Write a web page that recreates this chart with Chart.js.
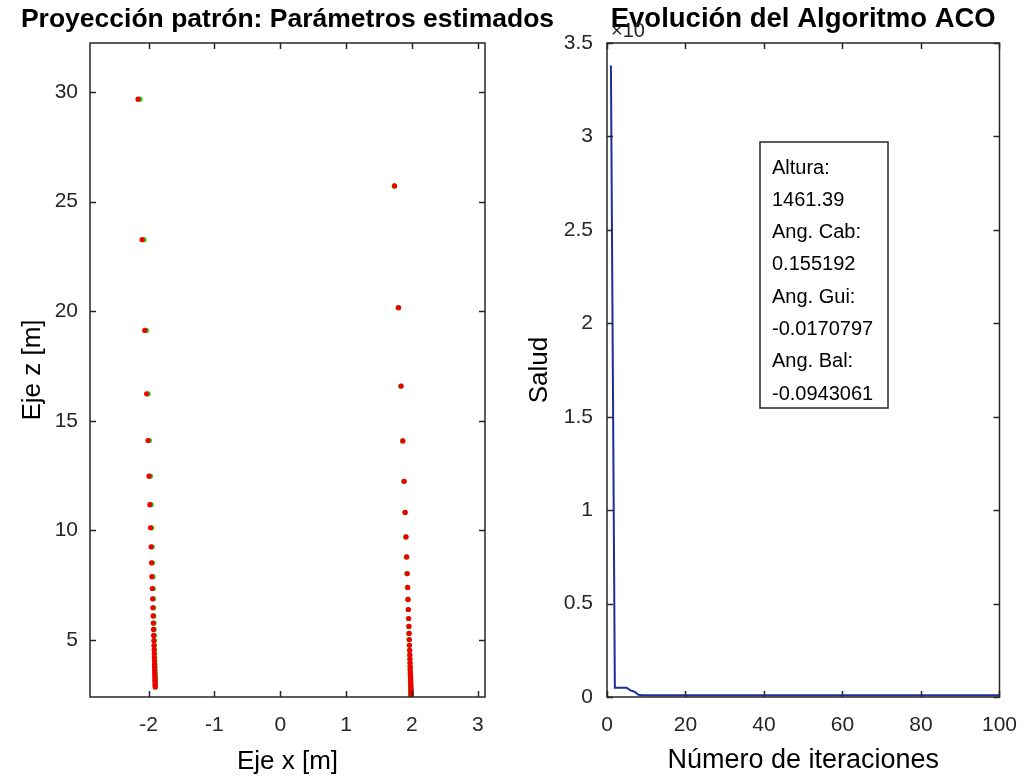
<!DOCTYPE html>
<html>
<head>
<meta charset="utf-8">
<title>Proyección y ACO</title>
<script src="https://cdn.jsdelivr.net/npm/chart.js@4.4.0/dist/chart.umd.min.js"></script>
<style>
  html, body { margin: 0; padding: 0; background: #fff; }
  #figura { position: relative; width: 1025px; height: 778px; }
  #figura canvas { position: absolute; left: 0; top: 0; }
</style>
</head>
<body>
<div id="figura">
  <canvas id="chart_proy" width="1025" height="778"></canvas>
  <canvas id="chart_aco" width="1025" height="778"></canvas>
</div>
<script>
/***** datos de la proyección *****/
// columna izquierda (estimados, rojo)
var estIzqX = [-2.160, -2.098, -2.058, -2.030, -2.009, -1.993, -1.980, -1.970, -1.962, -1.955,
    -1.949, -1.943, -1.939, -1.935, -1.931, -1.928, -1.925, -1.923, -1.920, -1.918,
    -1.916, -1.914, -1.913, -1.911, -1.910, -1.909, -1.907, -1.906, -1.905, -1.904,
    -1.903, -1.902, -1.901, -1.901, -1.900];
var estIzqZ = [29.67, 23.26, 19.12, 16.23, 14.10, 12.47, 11.17, 10.12, 9.25, 8.52,
    7.89, 7.35, 6.88, 6.47, 6.10, 5.77, 5.48, 5.21, 4.97, 4.75,
    4.55, 4.37, 4.20, 4.04, 3.89, 3.76, 3.63, 3.51, 3.40, 3.30,
    3.20, 3.11, 3.02, 2.94, 2.86];
// columna derecha (estimados, rojo)
var estDerX = [1.737, 1.797, 1.836, 1.863, 1.883, 1.898, 1.911, 1.921, 1.929, 1.936,
    1.942, 1.947, 1.951, 1.955, 1.958, 1.961, 1.964, 1.967, 1.969, 1.971,
    1.973, 1.975, 1.976, 1.978, 1.979, 1.981, 1.982, 1.983, 1.984, 1.985,
    1.986, 1.987, 1.988, 1.988, 1.989, 1.990];
var estDerZ = [25.71, 20.16, 16.58, 14.08, 12.24, 10.82, 9.70, 8.79, 8.03, 7.40,
    6.85, 6.39, 5.98, 5.62, 5.30, 5.02, 4.76, 4.53, 4.32, 4.13,
    3.95, 3.79, 3.65, 3.51, 3.38, 3.26, 3.15, 3.05, 2.95, 2.86,
    2.78, 2.70, 2.62, 2.55, 2.48, 2.42];
// patrón (verde), misma altura z que los estimados
var patIzqX = [-2.130, -2.070, -2.032, -2.006, -1.987, -1.972, -1.960, -1.951, -1.944, -1.938,
    -1.933, -1.928, -1.925, -1.922, -1.919, -1.917, -1.915, -1.913, -1.911, -1.910,
    -1.908, -1.907, -1.906, -1.904, -1.903, -1.903, -1.902, -1.901, -1.900, -1.899,
    -1.898, -1.897, -1.896, -1.896, -1.895];
var patDerX = [1.730, 1.790, 1.830, 1.857, 1.877, 1.892, 1.905, 1.915, 1.923, 1.930,
    1.936, 1.941, 1.945, 1.949, 1.952, 1.955, 1.958, 1.961, 1.963, 1.965,
    1.967, 1.969, 1.970, 1.972, 1.973, 1.975, 1.976, 1.977, 1.978, 1.979,
    1.980, 1.981, 1.982, 1.982, 1.983, 1.984];
var ticksXProy = [-2, -1, 0, 1, 2, 3];
var ticksZProy = [5, 10, 15, 20, 25, 30];

/***** datos del ACO *****/
var salud = [3.38, 0.05, 0.05, 0.05, 0.05, 0.035, 0.028, 0.012, 0.010, 0.010,
    0.010, 0.010, 0.010, 0.010, 0.010, 0.010, 0.010, 0.010, 0.010, 0.010,
    0.010, 0.010, 0.010, 0.010, 0.010, 0.010, 0.010, 0.010, 0.010, 0.010,
    0.010, 0.010, 0.010, 0.010, 0.010, 0.010, 0.010, 0.010, 0.010, 0.010,
    0.010, 0.010, 0.010, 0.010, 0.010, 0.010, 0.010, 0.010, 0.010, 0.010,
    0.010, 0.010, 0.010, 0.010, 0.010, 0.010, 0.010, 0.010, 0.010, 0.010,
    0.010, 0.010, 0.010, 0.010, 0.010, 0.010, 0.010, 0.010, 0.010, 0.010,
    0.010, 0.010, 0.010, 0.010, 0.010, 0.010, 0.010, 0.010, 0.010, 0.010,
    0.010, 0.010, 0.010, 0.010, 0.010, 0.010, 0.010, 0.010, 0.010, 0.010,
    0.010, 0.010, 0.010, 0.010, 0.010, 0.010, 0.010, 0.010, 0.010, 0.010];
var ticksIter = [0, 20, 40, 60, 80, 100];
var ticksSalud = [0, 0.5, 1, 1.5, 2, 2.5, 3, 3.5];
var cuadroInfo = ['Altura:', '1461.39', 'Ang. Cab:', '0.155192', 'Ang. Gui:', '-0.0170797', 'Ang. Bal:', '-0.0943061'];

var iteraciones = [];
for (var i = 1; i <= salud.length; i++) iteraciones.push(i);

function puntos(xs, zs) {
    return xs.map(function (x, k) { return { x: x, y: zs[k] }; });
}

// marcas fijas en los valores dados, etiqueta tal cual (3, no 3.0)
function marcasFijas(valores) {
    return function (scale) {
        scale.ticks = valores.map(function (v) { return { value: v }; });
    };
}
function etiquetaSimple(v) { return String(v); }

Chart.defaults.font.family = "'Liberation Sans', Arial, Helvetica, sans-serif";
Chart.defaults.color = '#262626';

// caja de ejes con marcas hacia dentro en los cuatro lados
var cajaEjes = {
    id: 'cajaEjes',
    afterDatasetsDraw: function (chart) {
        var ctx = chart.ctx, a = chart.chartArea;
        var sx = chart.scales.x, sy = chart.scales.y;
        var lt = 6;
        ctx.save();
        ctx.strokeStyle = '#262626';
        ctx.lineWidth = 1.5;
        ctx.strokeRect(a.left, a.top, a.right - a.left, a.bottom - a.top);
        ctx.beginPath();
        sx.ticks.forEach(function (t) {
            var px = Math.round(sx.getPixelForValue(t.value)) + 0.5;
            ctx.moveTo(px, a.bottom); ctx.lineTo(px, a.bottom - lt);
            ctx.moveTo(px, a.top); ctx.lineTo(px, a.top + lt);
        });
        sy.ticks.forEach(function (t) {
            var py = Math.round(sy.getPixelForValue(t.value)) + 0.5;
            ctx.moveTo(a.left, py); ctx.lineTo(a.left + lt, py);
            ctx.moveTo(a.right, py); ctx.lineTo(a.right - lt, py);
        });
        ctx.stroke();
        ctx.restore();
    }
};

// título en negrita centrado sobre los ejes (sin recortar el ancho)
var tituloEjes = {
    id: 'tituloEjes',
    afterDraw: function (chart, args, opts) {
        var ctx = chart.ctx, a = chart.chartArea;
        ctx.save();
        ctx.font = 'bold ' + opts.size + 'px ' + Chart.defaults.font.family;
        ctx.fillStyle = '#000';
        ctx.textAlign = 'center';
        ctx.textBaseline = 'alphabetic';
        ctx.fillText(opts.text, (a.left + a.right) / 2, a.top - 16);
        ctx.restore();
    }
};

// multiplicador del eje y y cuadro de texto con los parámetros
var anotacionesAco = {
    id: 'anotacionesAco',
    afterDraw: function (chart) {
        var ctx = chart.ctx, a = chart.chartArea;
        ctx.save();
        ctx.fillStyle = '#262626';
        ctx.font = '20px ' + Chart.defaults.font.family;
        ctx.textAlign = 'left';
        ctx.fillText('\u00d710', a.left + 4, a.top - 6);

        var bx = a.left + 153, by = a.top + 99, bw = 128, bh = 266;
        ctx.fillStyle = '#fff';
        ctx.fillRect(bx, by, bw, bh);
        ctx.strokeStyle = '#262626';
        ctx.lineWidth = 1.5;
        ctx.strokeRect(bx, by, bw, bh);
        ctx.fillStyle = '#000';
        ctx.font = '20px ' + Chart.defaults.font.family;
        ctx.textBaseline = 'middle';
        cuadroInfo.forEach(function (txt, k) {
            ctx.fillText(txt, bx + 12, by + 26 + k * 32.3);
        });
        ctx.restore();
    }
};

/***** Proyección patrón *****/
var ctxProy = document.getElementById('chart_proy').getContext('2d');
new Chart(ctxProy, {
    type: 'scatter',
    data: {
        datasets: [
            { label: 'Estimados izq', data: puntos(estIzqX, estIzqZ), backgroundColor: '#f00000', order: 0 },
            { label: 'Estimados der', data: puntos(estDerX, estDerZ), backgroundColor: '#f00000', order: 0 },
            { label: 'Patrón izq', data: puntos(patIzqX, estIzqZ), backgroundColor: '#1fe01f', order: 1 },
            { label: 'Patrón der', data: puntos(patDerX, estDerZ), backgroundColor: '#1fe01f', order: 1 }
        ]
    },
    options: {
        responsive: false,
        animation: false,
        layout: { padding: { left: 0, right: 540, top: 43, bottom: 0 } },
        elements: { point: { radius: 2.6, borderWidth: 0, hoverRadius: 2.6 } },
        plugins: {
            legend: { display: false },
            tooltip: { enabled: false },
            tituloEjes: { text: 'Proyección patrón: Parámetros estimados', size: 26.5 }
        },
        scales: {
            x: {
                type: 'linear', min: -2.89, max: 3.11,
                grid: { display: false }, border: { display: false },
                afterBuildTicks: marcasFijas(ticksXProy),
                ticks: { callback: etiquetaSimple, padding: 8, maxRotation: 0, font: { size: 21 } },
                title: { display: true, text: 'Eje x [m]', color: '#000', font: { size: 26 }, padding: { top: 0, bottom: 1 } },
                afterFit: function (s) { s.height = 81; }
            },
            y: {
                type: 'linear', min: 2.4, max: 32.23,
                grid: { display: false }, border: { display: false },
                afterBuildTicks: marcasFijas(ticksZProy),
                ticks: { callback: etiquetaSimple, padding: 4, font: { size: 21 } },
                title: { display: true, text: 'Eje z [m]', color: '#000', font: { size: 26 }, padding: { top: 17, bottom: 0 } },
                afterFit: function (s) { s.width = 90; }
            }
        }
    },
    plugins: [cajaEjes, tituloEjes]
});

/***** Evolución del ACO *****/
var ctxAco = document.getElementById('chart_aco').getContext('2d');
new Chart(ctxAco, {
    type: 'line',
    data: {
        labels: iteraciones,
        datasets: [{
            label: 'Salud',
            data: salud.map(function (v, k) { return { x: iteraciones[k], y: v }; }),
            borderColor: '#1c2f9c',
            borderWidth: 2,
            pointRadius: 0,
            tension: 0,
            fill: false
        }]
    },
    options: {
        responsive: false,
        animation: false,
        layout: { padding: { left: 513, right: 24, top: 43, bottom: 0 } },
        plugins: {
            legend: { display: false },
            tooltip: { enabled: false },
            tituloEjes: { text: 'Evolución del Algoritmo ACO', size: 27.5 }
        },
        scales: {
            x: {
                type: 'linear', min: 0, max: 100,
                grid: { display: false }, border: { display: false },
                afterBuildTicks: marcasFijas(ticksIter),
                ticks: { callback: etiquetaSimple, padding: 8, maxRotation: 0, font: { size: 21 } },
                title: { display: true, text: 'Número de iteraciones', color: '#000', font: { size: 27 }, padding: { top: 0, bottom: 1 } },
                afterFit: function (s) { s.height = 81; }
            },
            y: {
                type: 'linear', min: 0, max: 3.5,
                grid: { display: false }, border: { display: false },
                afterBuildTicks: marcasFijas(ticksSalud),
                ticks: { callback: etiquetaSimple, padding: 6, font: { size: 21 } },
                title: { display: true, text: 'Salud', color: '#000', font: { size: 26 }, padding: { top: 11, bottom: 0 } },
                afterFit: function (s) { s.width = 94; }
            }
        }
    },
    plugins: [cajaEjes, tituloEjes, anotacionesAco]
});
</script>
</body>
</html>
